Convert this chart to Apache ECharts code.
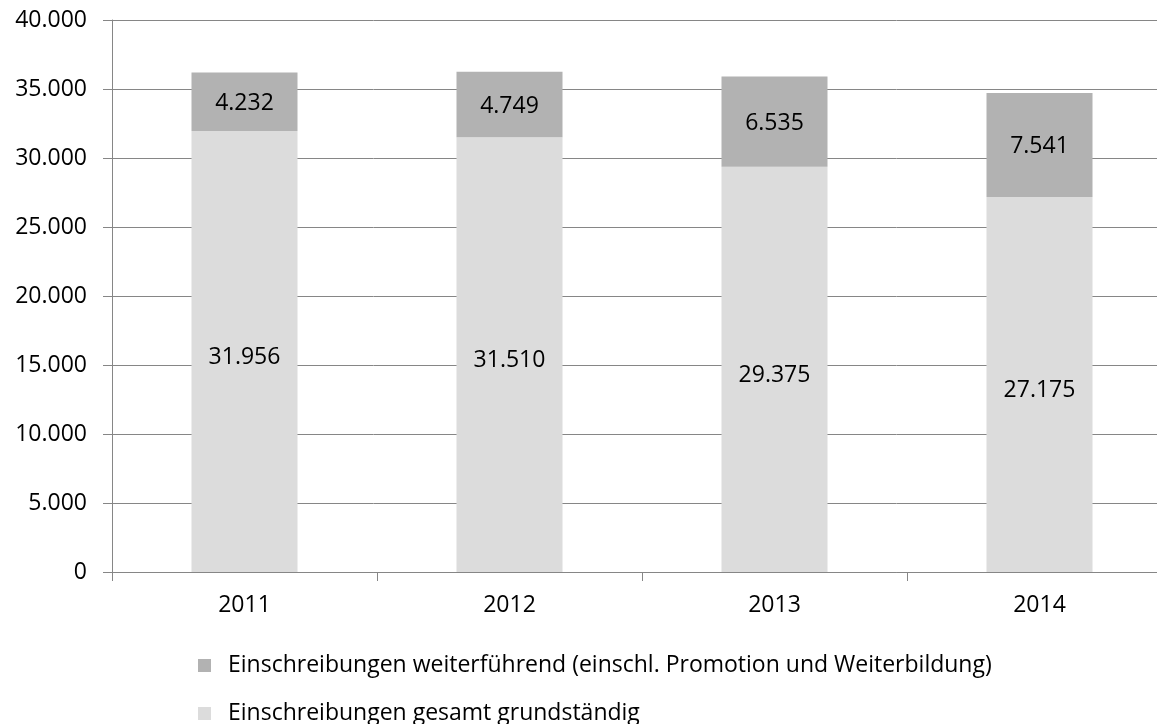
<!DOCTYPE html>
<html>
<head>
<meta charset="utf-8">
<script src="https://cdn.jsdelivr.net/npm/echarts@6/dist/echarts.min.js"></script>
<style>
  html, body { margin: 0; padding: 0; background: #fff; }
  #chart { width: 1157px; height: 724px; }
</style>
</head>
<body>
<div id="chart"></div>
<script>
const years = ['2011', '2012', '2013', '2014'];
const grundstaendig = [31956, 31510, 29375, 27175];
const weiterfuehrend = [4232, 4749, 6535, 7541];

const nameGrund = 'Einschreibungen gesamt grundständig';
const nameWeiter = 'Einschreibungen weiterführend (einschl. Promotion und Weiterbildung)';

const fontFamily = '"Open Sans", "DejaVu Sans", sans-serif';
const lineColor = '#868686';

// German thousands separator
const fmt = (v) => String(v).replace(/\B(?=(\d{3})+(?!\d))/g, '.');

const chart = echarts.init(document.getElementById('chart'));

const barLabel = {
  show: true,
  position: 'inside',
  color: '#000',
  fontFamily,
  fontSize: 23,
  formatter: (p) => fmt(p.value),
};

const legendBase = {
  orient: 'horizontal',
  left: 193,
  itemWidth: 13,
  itemHeight: 13,
  icon: 'rect',
  textStyle: { fontFamily, fontSize: 23, color: '#000', padding: [0, 0, 0, 12] },
};

chart.setOption({
  animation: false,
  textStyle: { fontFamily },
  grid: { left: 112, top: 20, width: 1060, height: 552, outerBoundsMode: 'none' },
  legend: [
    { ...legendBase, top: 649, data: [nameWeiter] },
    { ...legendBase, top: 697, data: [nameGrund] },
  ],
  xAxis: {
    type: 'category',
    data: years,
    axisLine: { lineStyle: { color: lineColor, width: 1 } },
    axisTick: { show: true, length: 9, lineStyle: { color: lineColor } },
    axisLabel: { color: '#000', fontSize: 23, margin: 22, fontFamily },
  },
  yAxis: {
    type: 'value',
    min: 0,
    max: 40000,
    interval: 5000,
    axisLine: { show: true, lineStyle: { color: lineColor, width: 1 } },
    axisTick: { show: true, length: 9, lineStyle: { color: lineColor } },
    splitLine: { lineStyle: { color: lineColor, width: 1 } },
    axisLabel: { color: '#000', fontSize: 23, margin: 25, fontFamily, formatter: (v) => fmt(v) },
  },
  series: [
    {
      name: nameGrund,
      type: 'bar',
      stack: 'total',
      barWidth: 106,
      data: grundstaendig,
      itemStyle: { color: '#dcdcdc' },
      label: { ...barLabel, offset: [0, 6] },
    },
    {
      name: nameWeiter,
      type: 'bar',
      stack: 'total',
      barWidth: 106,
      data: weiterfuehrend,
      itemStyle: { color: '#b2b2b2' },
      label: { ...barLabel, offset: [0, 2] },
    },
  ],
});
</script>
</body>
</html>
